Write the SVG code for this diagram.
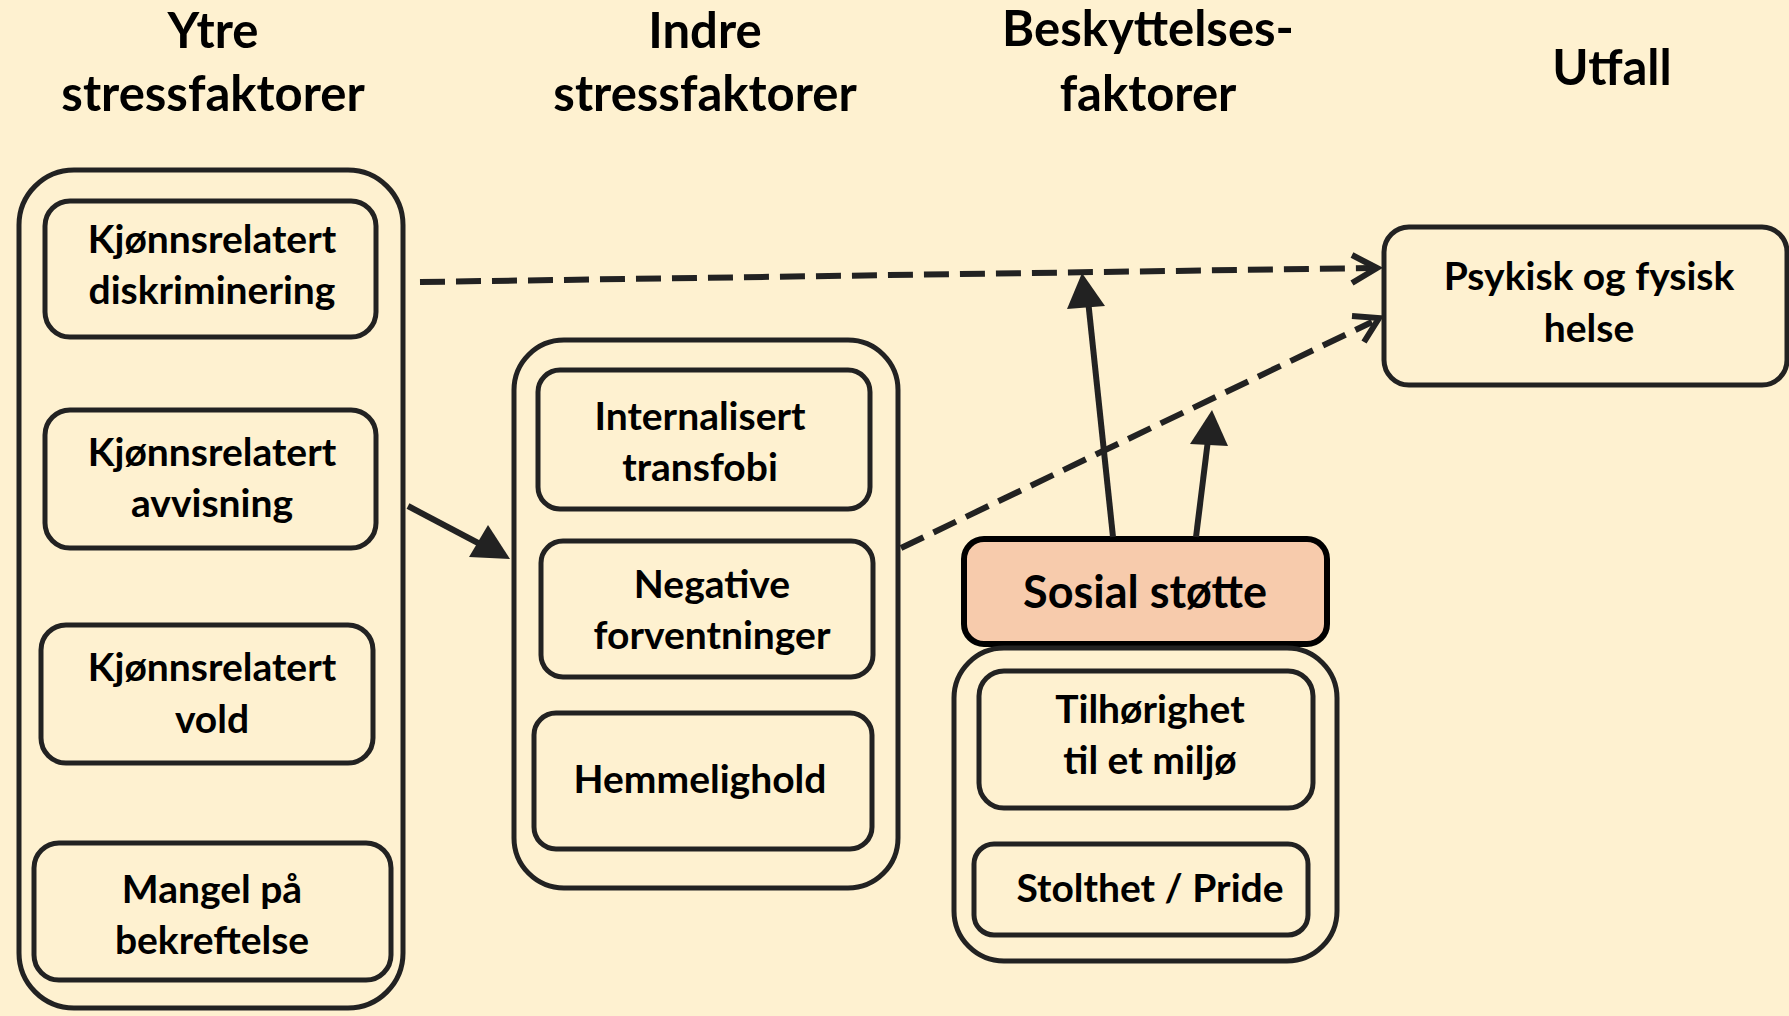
<svg xmlns="http://www.w3.org/2000/svg" width="1789" height="1016" viewBox="0 0 1789 1016">
<style>
.bg{fill:#FEF1D0}
.box{fill:none;stroke:#222;stroke-width:5}
.t{font-family:Lato,"Liberation Sans",sans-serif;font-weight:bold;fill:#000;text-anchor:middle}
.h{font-size:49px}
.n{font-size:39px}
.dash{fill:none;stroke:#222;stroke-width:6;stroke-dasharray:25 11}
.solid{fill:none;stroke:#222;stroke-width:6}
</style>
<rect class="bg" x="0" y="0" width="1789" height="1016"/>
<g id="headers">
<text class="t h" x="213" y="48">Ytre</text>
<text class="t h" x="213" y="111">stressfaktorer</text>
<text class="t h" x="705" y="48">Indre</text>
<text class="t h" x="705" y="111">stressfaktorer</text>
<text class="t h" x="1148" y="46">Beskyttelses-</text>
<text class="t h" x="1148" y="111">faktorer</text>
<text class="t h" x="1612" y="85">Utfall</text>
</g>
<g id="ytre">
<rect class="box" x="19" y="170" width="384" height="838" rx="55"/>
<g id="diskriminering"><rect class="box" x="45" y="201" width="331" height="136" rx="25"/>
<text class="t n" x="212" y="253">Kjønnsrelatert</text><text class="t n" x="212" y="304">diskriminering</text></g>
<g id="avvisning"><rect class="box" x="45" y="410" width="331" height="138" rx="25"/>
<text class="t n" x="212" y="466">Kjønnsrelatert</text><text class="t n" x="212" y="517">avvisning</text></g>
<g id="vold"><rect class="box" x="41" y="625" width="332" height="138" rx="25"/>
<text class="t n" x="212" y="681">Kjønnsrelatert</text><text class="t n" x="212" y="733">vold</text></g>
<g id="mangel"><rect class="box" x="34" y="843" width="357" height="137" rx="25"/>
<text class="t n" x="212" y="903">Mangel på</text><text class="t n" x="212" y="954">bekreftelse</text></g>
</g>
<g id="indre">
<rect class="box" x="514" y="340" width="384" height="548" rx="50"/>
<g id="transfobi"><rect class="box" x="538" y="370" width="332" height="139" rx="22"/>
<text class="t n" x="700" y="430">Internalisert</text><text class="t n" x="700" y="481">transfobi</text></g>
<g id="forventninger"><rect class="box" x="541" y="541" width="332" height="136" rx="22"/>
<text class="t n" x="712" y="598">Negative</text><text class="t n" x="712" y="649">forventninger</text></g>
<g id="hemmelighold"><rect class="box" x="534" y="713" width="338" height="136" rx="22"/>
<text class="t n" x="700" y="793">Hemmelighold</text></g>
</g>
<g id="beskyttelse">
<g id="sosial"><rect x="964" y="539" width="363" height="105" rx="20" fill="#F7CBAC" stroke="#000" stroke-width="6"/>
<text class="t" style="font-size:45px" x="1145" y="608">Sosial støtte</text></g>
<rect class="box" x="954" y="648" width="383" height="313" rx="50"/>
<g id="tilhorighet"><rect class="box" x="979" y="671" width="334" height="137" rx="25"/>
<text class="t n" x="1150" y="723">Tilhørighet</text><text class="t n" x="1150" y="774">til et miljø</text></g>
<g id="stolthet"><rect class="box" x="974" y="844" width="334" height="91" rx="20"/>
<text class="t n" x="1150" y="902">Stolthet / Pride</text></g>
</g>
<g id="utfall">
<rect class="box" x="1384" y="227" width="403" height="158" rx="25"/>
<text class="t n" x="1589" y="290">Psykisk og fysisk</text>
<text class="t n" x="1589" y="342">helse</text>
</g>
<g id="connectors">
<path class="dash" d="M420,282 L1372,268"/>
<path class="solid" d="M1352,255 L1377,268 L1352,283"/>
<path class="dash" d="M901,548 L1372,322"/>
<path class="solid" d="M1352,316 L1379,318 L1364,342"/>
<path class="solid" d="M408,506 L480,544"/>
<polygon points="510,559 469,557 488,525" fill="#222"/>
<path class="solid" d="M1113,537 L1088,300"/>
<polygon points="1082,273 1067,309 1105,306" fill="#222"/>
<path class="solid" d="M1196,537 L1208,440"/>
<polygon points="1212,410 1190,444 1228,446" fill="#222"/>
</g>
</svg>
